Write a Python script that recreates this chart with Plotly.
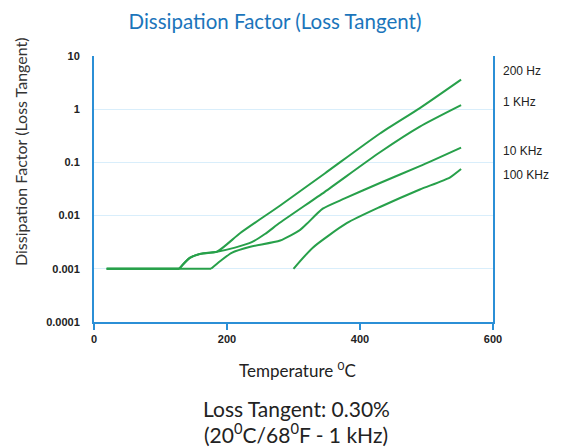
import math
import plotly.graph_objects as go

# Temperature (°C) and dissipation factor values
t_200hz = [19, 128, 144, 159, 185, 220, 280, 347, 430, 490, 552]
v_200hz = [0.001, 0.001, 0.0016, 0.0019, 0.0021, 0.0047, 0.0155, 0.062, 0.35, 1.05, 3.6]

t_1khz = [19, 128, 144, 159, 185, 212, 238, 257, 280, 347, 430, 490, 552]
v_1khz = [0.001, 0.001, 0.0016, 0.0019, 0.0021, 0.0025, 0.0032, 0.0045, 0.0074, 0.028, 0.155, 0.47, 1.19]

t_10khz = [19, 176, 190, 207, 235, 280, 310, 320, 344, 377, 430, 490, 552]
v_10khz = [0.001, 0.001, 0.0014, 0.0020, 0.0026, 0.0034, 0.0054, 0.007, 0.0135, 0.021, 0.041, 0.085, 0.19]

t_100khz = [300, 329, 380, 430, 490, 535, 552]
v_100khz = [0.001, 0.0025, 0.0072, 0.0145, 0.031, 0.052, 0.075]

series_labels = ["200 Hz", "1 KHz", "10 KHz", "100 KHz"]
label_y = [5.2, 1.36, 0.162, 0.057]

x_ticks = [0, 200, 400, 600]
y_ticks = [0.0001, 0.001, 0.01, 0.1, 1, 10]
y_tick_text = ["0.0001", "0.001", "0.01", "0.1", "1", "10"]

GREEN = "#27a04a"
BLUE = "#2b8fd6"
GRID = "#d9eefb"

# plot area in page pixels (page has an 8px body offset)
OFF = 8
PL, PR, PT, PB = 94, 493, 56, 322
W, H = 565, 447


def px(x):
    return (x - PL) / (PR - PL)


def py(y):
    return (PB - y) / (PB - PT)


fig = go.Figure()
for t, v in [(t_200hz, v_200hz), (t_1khz, v_1khz), (t_10khz, v_10khz), (t_100khz, v_100khz)]:
    # flat baseline portion drawn straight, the rising portion smoothed
    k = 0
    while k + 1 < len(v) and v[k + 1] == v[0]:
        k += 1
    if k > 0:
        fig.add_trace(go.Scatter(x=t[:k + 1], y=v[:k + 1], mode="lines",
                                 line=dict(color=GREEN, width=2),
                                 showlegend=False, hoverinfo="skip"))
    fig.add_trace(go.Scatter(x=t[k:], y=v[k:], mode="lines",
                             line=dict(color=GREEN, width=2, shape="spline", smoothing=0.6),
                             showlegend=False, hoverinfo="skip"))

annotations = []
for lab, yv in zip(series_labels, label_y):
    annotations.append(dict(x=px(501), y=math.log10(yv), xref="paper", yref="y", text=lab,
                            showarrow=False, xanchor="left", yanchor="middle",
                            font=dict(family="Arial, Liberation Sans", size=12, color="#222")))

annotations += [
    dict(x=px(20), y=py(152), xref="paper", yref="paper",
         text="Dissipation Factor (Loss Tangent)", textangle=-90, showarrow=False,
         xanchor="center", yanchor="middle",
         font=dict(family="Lato, Open Sans", size=16, color="#333")),
    dict(x=px(297), y=py(369), xref="paper", yref="paper",
         text="Temperature <sup>0</sup>C", showarrow=False,
         xanchor="center", yanchor="middle",
         font=dict(family="Lato, Open Sans", size=17, color="#222")),
    dict(x=px(296), y=py(408), xref="paper", yref="paper",
         text="Loss Tangent: 0.30%", showarrow=False,
         xanchor="center", yanchor="middle",
         font=dict(family="Lato, Open Sans", size=21, color="#222")),
    dict(x=px(296), y=py(433), xref="paper", yref="paper",
         text="(20<sup>0</sup>C/68<sup>0</sup>F - 1 kHz)", showarrow=False,
         xanchor="center", yanchor="middle",
         font=dict(family="Lato, Open Sans", size=21, color="#222")),
]

fig.update_layout(
    width=W, height=H,
    margin=dict(l=PL - OFF, r=W - (PR - OFF), t=PT - OFF, b=H - (PB - OFF)),
    paper_bgcolor="white", plot_bgcolor="white",
    title=dict(text="Dissipation Factor (Loss Tangent)", x=(275 - OFF) / W, xanchor="center",
               y=1 - (22 - OFF) / H, yanchor="middle",
               font=dict(family="Lato, Open Sans", size=20.5, color="#1b75bb")),
    xaxis=dict(range=[0, 600], tickvals=x_ticks, showgrid=False, zeroline=False,
               showline=True, linecolor=BLUE, linewidth=2,
               ticks="outside", ticklen=6, tickwidth=2, tickcolor=BLUE,
               tickfont=dict(family="Arial, Liberation Sans", size=11, color="#222", weight="bold"),
               fixedrange=True),
    yaxis=dict(type="log", range=[-4, 1], tickvals=y_ticks, ticktext=y_tick_text,
               showgrid=True, gridcolor=GRID, gridwidth=1, zeroline=False,
               showline=True, linecolor=BLUE, linewidth=2, mirror=True,
               ticks="", ticklabelstandoff=10,
               tickfont=dict(family="Arial, Liberation Sans", size=11, color="#222", weight="bold"),
               fixedrange=True),
    annotations=annotations,
)

fig.write_html("out.html")
